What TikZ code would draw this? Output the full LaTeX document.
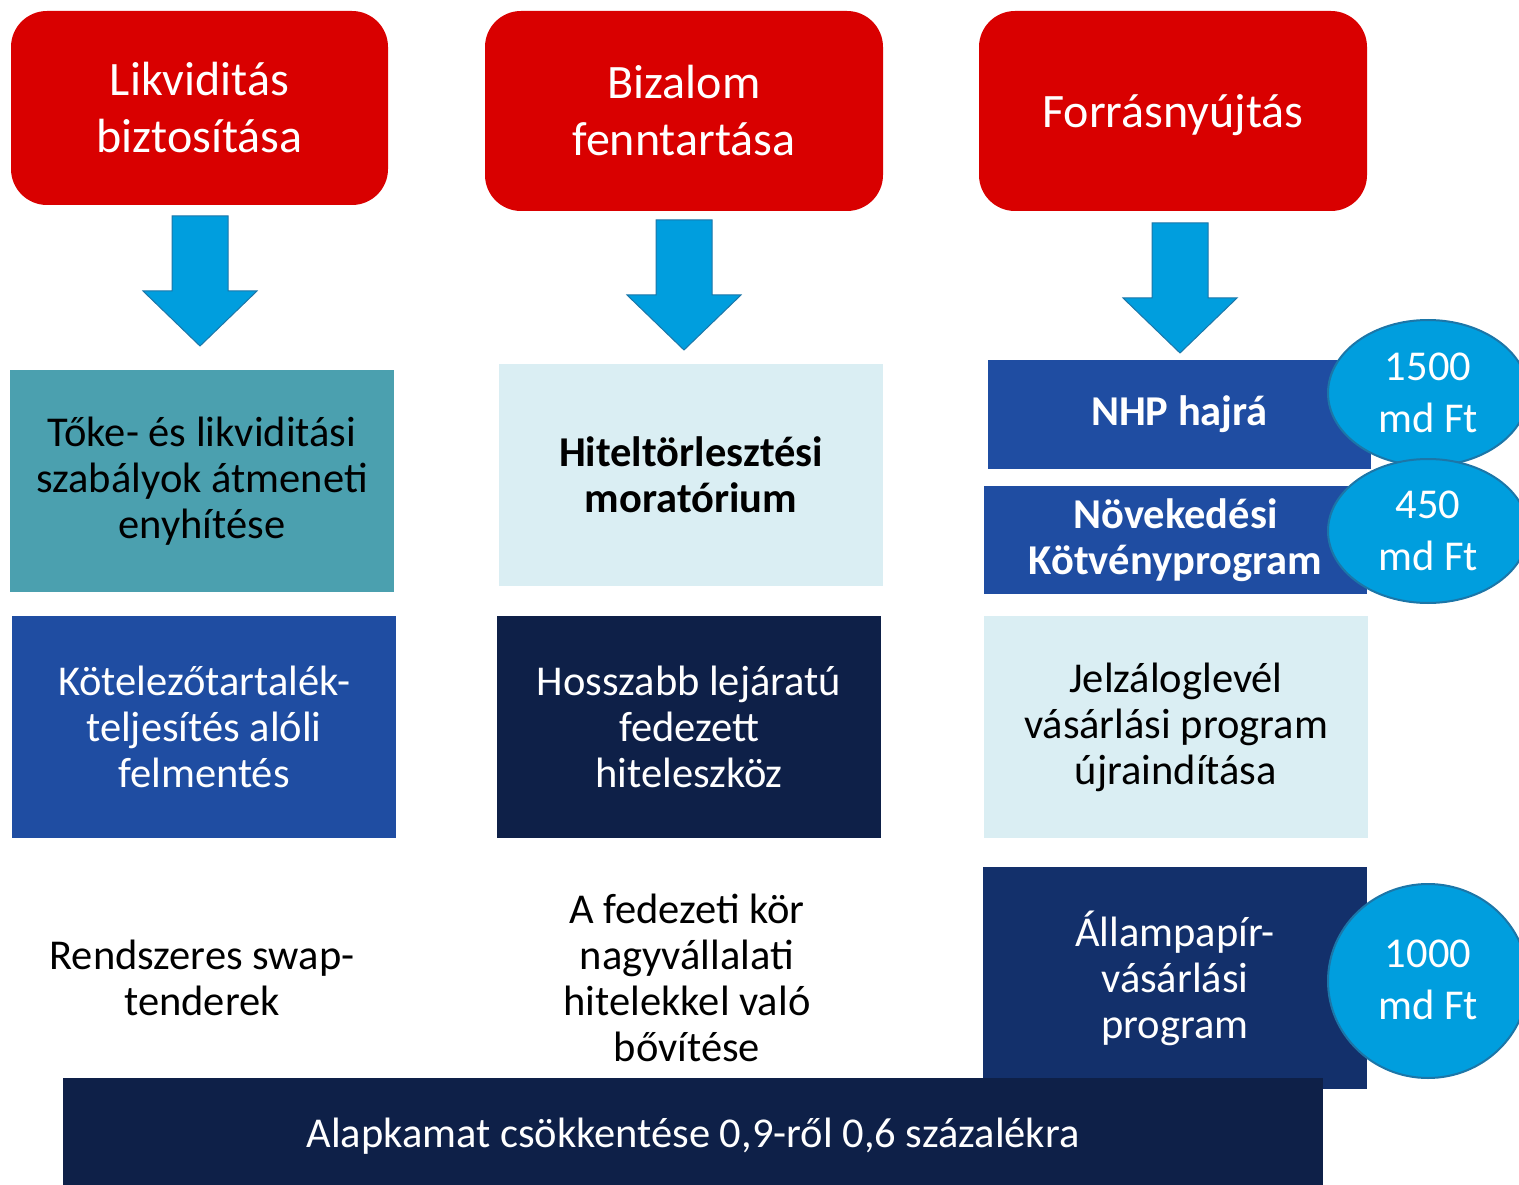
\documentclass[tikz,border=0pt]{standalone}
\usepackage{fontspec}
\setmainfont{Carlito}
\usetikzlibrary{shapes.geometric}
\definecolor{redbox}{RGB}{217,0,0}
\definecolor{arrowblue}{RGB}{0,158,222}
\definecolor{arrowedge}{RGB}{28,118,168}
\definecolor{tealbox}{RGB}{75,160,175}
\definecolor{lightbox}{RGB}{218,238,243}
\definecolor{midblue}{RGB}{31,77,162}
\definecolor{navy}{RGB}{14,32,72}
\definecolor{darkblue}{RGB}{19,48,107}
\begin{document}
\begin{tikzpicture}[x=1pt,y=-1pt,
  head/.style={rectangle, rounded corners=36pt, fill=redbox, text=white, inner sep=0pt,
    align=center, font=\fontsize{48}{57}\selectfont},
  box/.style={rectangle, inner sep=0pt, align=center, minimum width=384pt, minimum height=222pt,
    font=\fontsize{42.5}{46}\selectfont},
  boldbox/.style={box, font=\fontsize{42.5}{46}\selectfont\bfseries},
  plain/.style={inner sep=0pt, align=center, font=\fontsize{42.5}{46}\selectfont},
  bubble/.style={ellipse, fill=arrowblue, draw=arrowedge, line width=2pt, text=white, inner sep=0pt,
    align=center, font=\fontsize{42.5}{52}\selectfont},
  blockarrow/.style={fill=arrowblue, draw=arrowedge, line width=1pt, line join=miter}
]
\useasboundingbox (0,0) rectangle (1519,1185);

% headers
\node[head, minimum width=377pt, minimum height=194pt] (h1) at (199.5,108) {Likviditás\\biztosítása};
\node[head, minimum width=398pt, minimum height=200pt] (h2) at (684,111) {Bizalom\\fenntartása};
\node[head, minimum width=388pt, minimum height=200pt] (h3) at (1173,111) {\raisebox{-4pt}[\height][\depth]{Forrásnyújtás}};

% arrows
\draw[blockarrow] (172,216) -- (172,291) -- (143,291) -- (200,346) -- (257,291) -- (228,291) -- (228,216) -- cycle;
\draw[blockarrow] (656,220) -- (656,295) -- (627,295) -- (684,350) -- (741,295) -- (712,295) -- (712,220) -- cycle;
\draw[blockarrow] (1152,223) -- (1152,298) -- (1123,298) -- (1180,353) -- (1237,298) -- (1208,298) -- (1208,223) -- cycle;

% row 2
\node[box, fill=tealbox, text=black] (b1) at (202,481) {Tőke- és likviditási\\szabályok átmeneti\\enyhítése};
\node[boldbox, fill=lightbox, text=black] (b2) at (691,475) {Hiteltörlesztési\\moratórium};
\node[boldbox, fill=midblue, text=white, minimum width=383pt, minimum height=109pt] (nhp) at (1179.5,414.5) {NHP hajrá};
\node[boldbox, fill=midblue, text=white, minimum width=383pt, minimum height=108pt] (nkp) at (1175.5,540) {Növekedési\\Kötvényprogram};
\node[bubble, minimum width=200pt, minimum height=146pt] (e1) at (1428,393) {1500\\md Ft};
\node[bubble, minimum width=200pt, minimum height=144pt] (e2) at (1428,531) {450\\md Ft};

% row 3
\node[box, fill=midblue, text=white] (c1) at (204,727) {Kötelezőtartalék-\\teljesítés alóli\\felmentés};
\node[box, fill=navy, text=white] (c2) at (689,727) {Hosszabb lejáratú\\fedezett\\hiteleszköz};
\node[box, fill=lightbox, text=black] (c3) at (1176,727) {Jelzáloglevél\\vásárlási program\\újraindítása};

% row 4
\node[plain, text=black] (d1) at (202,978) {Rendszeres swap-\\tenderek};
\node[plain, text=black] (d2) at (687,978) {A fedezeti kör\\nagyvállalati\\hitelekkel való\\bővítése};
\node[box, fill=darkblue, text=white] (d3) at (1175,978) {Állampapír-\\vásárlási\\program};
\node[bubble, minimum width=200pt, minimum height=194pt] (e3) at (1428,981) {\raisebox{-2pt}[\height][\depth]{\begin{tabular}{@{}c@{}}1000\\md Ft\end{tabular}}};

% bottom bar
\node[box, fill=navy, text=white, minimum width=1260pt, minimum height=107pt] (bar) at (693,1131.5) {\raisebox{-5pt}[\height][\depth]{Alapkamat csökkentése 0,9-ről 0,6 százalékra}};
\end{tikzpicture}
\end{document}
